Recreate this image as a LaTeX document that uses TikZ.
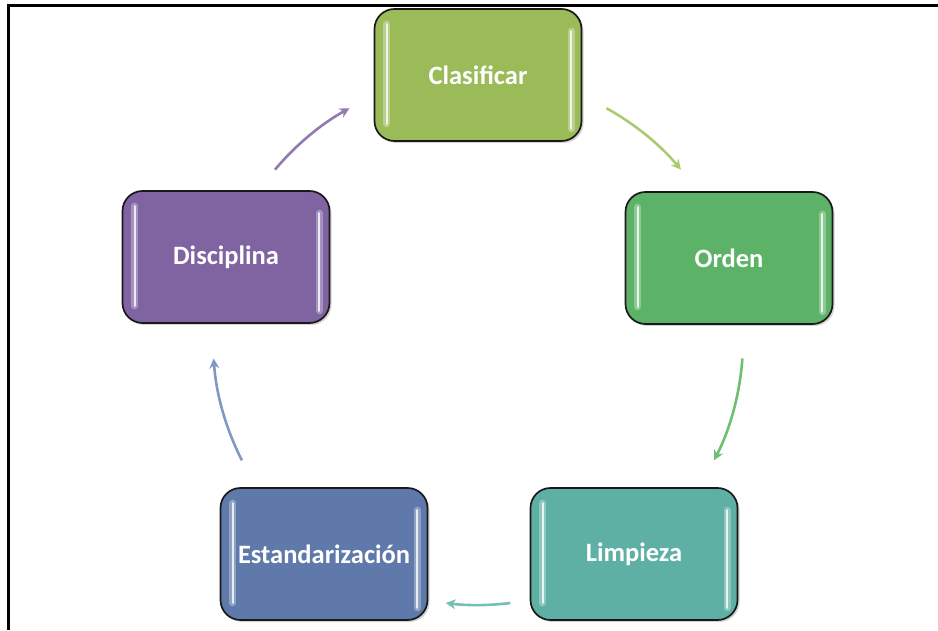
\documentclass[tikz,border=0pt]{standalone}
\usepackage{fontspec}
\setmainfont{Carlito}
\usetikzlibrary{arrows.meta,shadows}

\definecolor{cClas}{HTML}{9BBB59}
\definecolor{cOrd}{HTML}{5CB367}
\definecolor{cLim}{HTML}{5EB0A4}
\definecolor{cEst}{HTML}{5F7AAA}
\definecolor{cDis}{HTML}{8064A2}
\definecolor{aClas}{HTML}{A9CB72}
\definecolor{aOrd}{HTML}{6CC070}
\definecolor{aLim}{HTML}{72C2B4}
\definecolor{aEst}{HTML}{8198C2}
\definecolor{aDis}{HTML}{9479B2}

\tikzset{
  stagebox/.style={rounded corners=20pt, minimum width=207pt, minimum height=132pt,
    draw=black!90, line width=1.7pt, text=white,
    font=\fontsize{26.5}{31}\selectfont\bfseries,
    drop shadow={opacity=0.35, shadow xshift=2pt, shadow yshift=-2pt}},
  gloss/.style={white, line width=2.2pt, line cap=round, opacity=0.8},
  glow/.style={white, line width=7pt, line cap=round, opacity=0.3},
  cycle arrow/.style={line width=2.6pt, -{Stealth[length=10pt,width=10pt]}},
  frame/.style={black, line width=2.2pt}
}

\begin{document}
\begin{tikzpicture}[x=1pt,y=1pt]
  \useasboundingbox (0,0) rectangle (938,630);

  % outer frame (left and top edges)
  \draw[frame] (8.5,0) -- (8.5,624.5) -- (938,624.5);

  % the five stages
  \node[stagebox, fill=cClas] (clas) at (478,555) {Clasificar};
  \node[stagebox, fill=cOrd]  (ord)  at (729,372) {Orden};
  \node[stagebox, fill=cLim]  (lim)  at (634,76)  {Limpieza};
  \node[stagebox, fill=cEst]  (est)  at (324,76)  {Estandarización};
  \node[stagebox, fill=cDis]  (dis)  at (226,373) {Disciplina};

  % glossy highlights on the sides of each box
  \foreach \n in {clas,ord,lim,est,dis}{
    \draw[glow]  ([xshift=13pt,yshift=-16pt]\n.north west) -- ([xshift=13pt,yshift=18pt]\n.south west);
    \draw[gloss] ([xshift=13pt,yshift=-16pt]\n.north west) -- ([xshift=13pt,yshift=18pt]\n.south west);
    \draw[glow]  ([xshift=-11pt,yshift=-23pt]\n.north east) -- ([xshift=-11pt,yshift=13pt]\n.south east);
    \draw[gloss] ([xshift=-11pt,yshift=-23pt]\n.north east) -- ([xshift=-11pt,yshift=13pt]\n.south east);
  }

  % centre of the cycle and arrow start points
  \coordinate (ctr) at (478,290);
  \coordinate (a1) at ([shift={(61:265pt)}]ctr);
  \coordinate (a2) at ([shift={(-4:265pt)}]ctr);
  \coordinate (a3) at ([shift={(-83:265pt)}]ctr);
  \coordinate (a4) at ([shift={(-153:265pt)}]ctr);
  \coordinate (a5) at ([shift={(140:265pt)}]ctr);

  % curved arrows between the stages
  \draw[cycle arrow, aClas] (a1) arc[start angle=61,  end angle=40,   radius=265pt];
  \draw[cycle arrow, aOrd]  (a2) arc[start angle=-4,  end angle=-27,  radius=265pt];
  \draw[cycle arrow, aLim]  (a3) arc[start angle=-83, end angle=-97,  radius=265pt];
  \draw[cycle arrow, aEst]  (a4) arc[start angle=-153,end angle=-176, radius=265pt];
  \draw[cycle arrow, aDis]  (a5) arc[start angle=140, end angle=119,  radius=265pt];
\end{tikzpicture}
\end{document}
